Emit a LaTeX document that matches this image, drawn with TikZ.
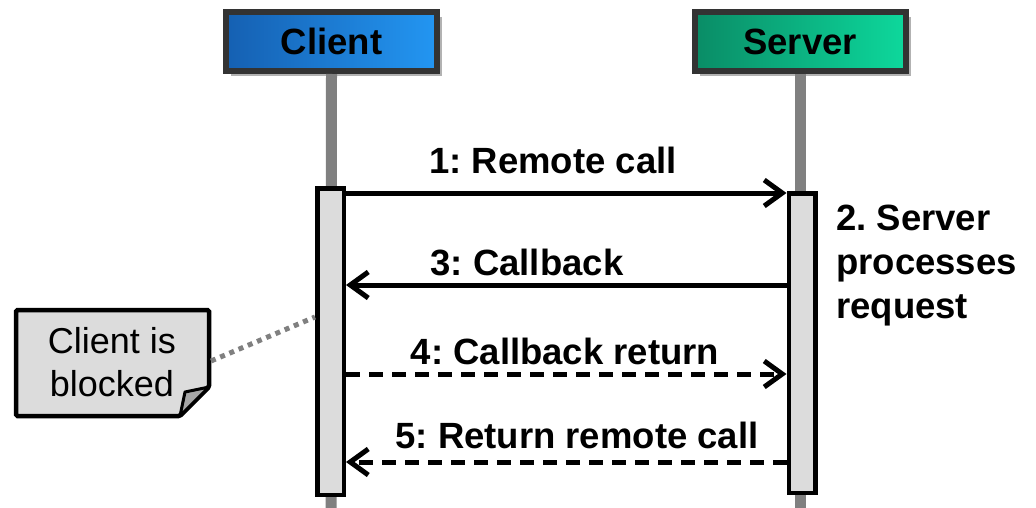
\documentclass[tikz,border=0pt]{standalone}
\usepackage{fontspec}
\setmainfont{Liberation Sans}
\usetikzlibrary{arrows.meta,shadows,calc}
\definecolor{cblueA}{HTML}{1560B2}
\definecolor{cblueB}{HTML}{2396F2}
\definecolor{sgreenA}{HTML}{0A8C66}
\definecolor{sgreenB}{HTML}{0DD89C}
\definecolor{actfill}{HTML}{DCDCDC}
\definecolor{lifegray}{HTML}{808080}
\definecolor{hdrborder}{HTML}{333333}
\frenchspacing
\begin{document}
\begin{tikzpicture}[x=1pt,y=-1pt,
  bigfont/.style={font=\fontsize{36.5}{42}\selectfont\bfseries},
  header/.style={draw=hdrborder, line width=6pt, minimum width=211pt, minimum height=59pt,
     inner sep=0pt, bigfont,
     drop shadow={shadow xshift=5pt, shadow yshift=-5pt, fill=black, opacity=0.3}},
  lifeline/.style={draw=lifegray, line width=11pt},
  actbox/.style={draw=black, fill=actfill, line width=4.5pt, minimum width=26.5pt, inner sep=0pt},
  msg/.style={line width=5pt, -{Straight Barb[length=18pt,width=26pt]}},
  retmsg/.style={msg, dash pattern=on 14pt off 9pt},
  lbl/.style={bigfont, inner sep=0pt, anchor=center},
  notetext/.style={font=\fontsize{36}{43}\selectfont, align=center, inner sep=0pt},
  dotline/.style={draw=lifegray, line width=5pt, dash pattern=on 5pt off 5pt}
]
\useasboundingbox (0,0) rectangle (1036,508);

% headers
\node[header, left color=cblueA, right color=cblueB] (client) at (331.5,41.5) {Client};
\node[header, left color=sgreenA, right color=sgreenB] (server) at (800,41.5) {Server};

% lifelines
\coordinate (cend) at (331,508);
\coordinate (send) at (800,508);
\draw[lifeline] (client.south) -- (cend);
\draw[lifeline] (server.south) -- (send);

% activation boxes
\node[actbox, minimum height=306.5pt] (cact) at (330.5,341.5) {};
\node[actbox, minimum height=299.5pt] (sact) at (802,343) {};

% message points
\coordinate (c1) at (cact.east |- 0,193);
\coordinate (s1) at (sact.west |- 0,193);
\coordinate (c3) at (cact.east |- 0,285);
\coordinate (s3) at (sact.west |- 0,285);
\coordinate (c4) at (cact.east |- 0,374);
\coordinate (s4) at (sact.west |- 0,374);
\coordinate (c5) at (cact.east |- 0,462);
\coordinate (s5) at (sact.west |- 0,462);

\draw[msg] (c1) -- (s1);
\draw[msg] (s3) -- (c3);
\draw[retmsg] (c4) -- (s4);
\draw[retmsg] (s5) -- (c5);

\node[lbl] (l1) at (553,160) {1: Remote call};
\node[lbl] (l3) at (527,262) {3: Callback};
\node[lbl] (l4) at (565,351) {4: Callback return};
\node[lbl] (l5) at (577,435) {5: Return remote call};

\node[align=left, anchor=north west, inner sep=0pt,
      font=\fontsize{36.5}{44}\selectfont\bfseries] (proc) at (836,205)
      {2. Server\\processes\\request};

% note
\draw[line width=4.5pt, fill=actfill, rounded corners=1.5pt]
  (16,310) -- (209,310) -- (209,387) -- (180,416) -- (16,416) -- cycle;
\draw[line width=3pt, fill=lifegray!70, line join=round]
  (209,387) -- (185,392) -- (180,416) -- cycle;
\node[notetext] (note) at (112,362) {Client is\\blocked};
\coordinate (nanch) at (211,361);
\coordinate (cdot) at (cact.west |- 0,317);
\draw[dotline] (nanch) -- (cdot);
\end{tikzpicture}
\end{document}
